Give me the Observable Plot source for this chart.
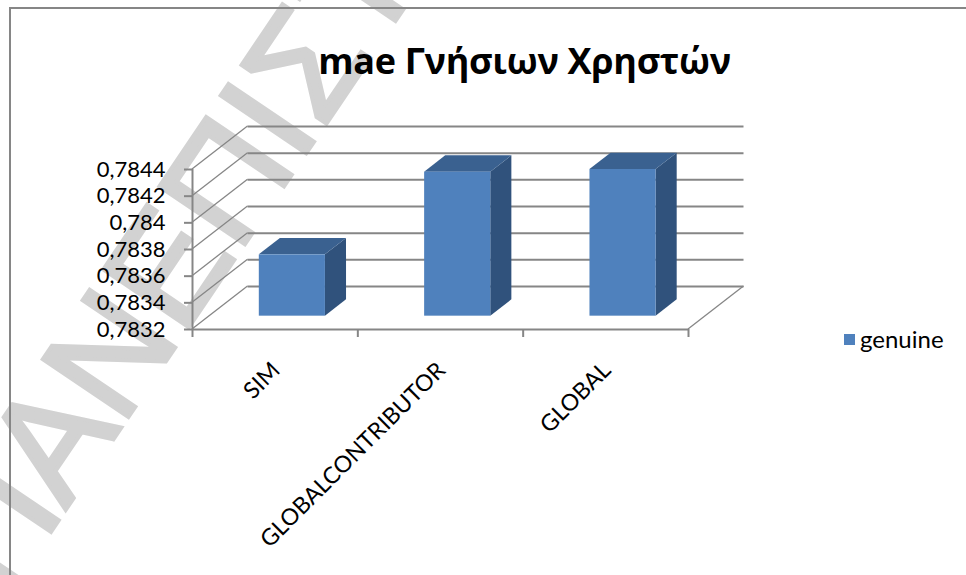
<!DOCTYPE html>
<html>
<head>
<meta charset="utf-8">
<script src="https://cdn.jsdelivr.net/npm/d3@7"></script>
<script src="https://cdn.jsdelivr.net/npm/@observablehq/plot@0.6"></script>
<style>
  html, body { margin: 0; padding: 0; background: #fff; }
  #wrap { position: relative; width: 966px; height: 575px; overflow: hidden; font-family: "Open Sans", sans-serif; }
  #wm { position: absolute; left: 0; top: 0; z-index: 0; }
  #frame { position: absolute; left: 9px; top: 7px; width: 2000px; height: 2000px; border-left: 2px solid #868686; border-top: 2px solid #868686; z-index: 1; }
  #chart { position: absolute; left: 0; top: 0; z-index: 2; }
  #title { position: absolute; left: 0; width: 1049px; top: 43px; text-align: center; font-weight: 700; font-size: 36px; line-height: 1; color: #000; z-index: 3; white-space: nowrap; letter-spacing: -0.3px; }
  #legend { position: absolute; left: 844px; top: 327px; z-index: 3; font-family: Lato, sans-serif; font-size: 24px; line-height: 24px; color: #000; }
  #legend .sw { position: absolute; left: 0; top: 7px; width: 11px; height: 11px; }
  #legend .lb { position: absolute; left: 16px; top: 0; white-space: nowrap; }
</style>
</head>
<body>
<div id="wrap">
  <svg id="wm" width="966" height="575">
    <text transform="translate(5,600) rotate(-56)" font-family="Liberation Sans" font-size="150" fill="#d2d2d2" stroke="#d2d2d2" stroke-width="4">ΠΑΝΕΠΙΣΤΗΜΙΟ</text>
  </svg>
  <div id="frame"></div>
  <div id="chart"></div>
  <div id="title"></div>
  <div id="legend"></div>
</div>
<script>
// ---- data ----
const title = "mae Γνήσιων Χρηστών";
const categories = ["SIM", "GLOBALCONTRIBUTOR", "GLOBAL"];
const values = [0.78366, 0.78428, 0.7843];
const seriesName = "genuine";
const yTickValues = [0.7832, 0.7834, 0.7836, 0.7838, 0.784, 0.7842, 0.7844];
const yTickLabels = ["0,7832", "0,7834", "0,7836", "0,7838", "0,784", "0,7842", "0,7844"];

// ---- styles ----
const yDomain = [yTickValues[0], yTickValues[yTickValues.length - 1]];
const xBoundaries = d3.range(categories.length + 1);
const DEPTH_DX = 55.5, DEPTH_DY = -43;      // px vector from front plane to back wall
const Z0 = 0.31, Z1 = 0.69;                // bar depth span
const BX0 = 0.3, BX1 = 0.7;                // bar span within band
const GRID = "#868686";
const FRONT = "#4f81bd", TOP = "#3a6190", SIDE = "#30527c";
const LABEL_FONT = "Lato";

const data = categories.map((c, i) => ({category: c, index: i, value: values[i]}));

document.getElementById("title").textContent = title;
document.getElementById("legend").innerHTML =
  `<div class="sw" style="background:${FRONT}"></div><div class="lb">${seriesName}</div>`;

// left wall diagonals and floor right edge (through scales)
const walls = (index, scales) => {
  const {x, y} = scales;
  const g = d3.create("svg:g").attr("fill", "none").attr("stroke", GRID).attr("stroke-width", 1.3);
  for (const t of yTickValues) {
    g.append("line").attr("x1", x(0)).attr("y1", y(t))
      .attr("x2", x(0) + DEPTH_DX).attr("y2", y(t) + DEPTH_DY);
  }
  const xe = x(categories.length), yb = y(yDomain[0]);
  g.append("line").attr("x1", xe).attr("y1", yb).attr("x2", xe + DEPTH_DX).attr("y2", yb + DEPTH_DY);
  return g.node();
};

// 3D extrusion (top + side) of bars
const extrusion = (index, scales) => {
  const {x, y} = scales;
  const g = d3.create("svg:g").attr("stroke", "none");
  const ddx = (Z1 - Z0) * DEPTH_DX, ddy = (Z1 - Z0) * DEPTH_DY;
  for (const d of data) {
    const xl = x(d.index + BX0) + Z0 * DEPTH_DX;
    const xr = x(d.index + BX1) + Z0 * DEPTH_DX;
    const yt = y(d.value) + Z0 * DEPTH_DY;
    const yb = y(yDomain[0]) + Z0 * DEPTH_DY;
    g.append("path").attr("fill", SIDE)
      .attr("d", `M${xr},${yt}L${xr + ddx},${yt + ddy}L${xr + ddx},${yb + ddy}L${xr},${yb}Z`);
    g.append("path").attr("fill", TOP)
      .attr("d", `M${xl},${yt}L${xr},${yt}L${xr + ddx},${yt + ddy}L${xl + ddx},${yt + ddy}Z`);
  }
  return g.node();
};

const chart = Plot.plot({
  width: 966,
  height: 575,
  marginLeft: 192,
  marginRight: 278,
  marginTop: 169,
  marginBottom: 246,
  style: {background: "transparent", fontFamily: LABEL_FONT, fontSize: "23px", color: "#000", overflow: "visible"},
  x: {type: "linear", domain: [0, categories.length]},
  y: {type: "linear", domain: yDomain},
  marks: [
    Plot.ruleY(yTickValues, {dx: DEPTH_DX, dy: DEPTH_DY, stroke: GRID, strokeWidth: 2}),
    walls,
    Plot.ruleX([0], {stroke: GRID, strokeWidth: 2}),
    Plot.ruleY([yDomain[0]], {stroke: GRID, strokeWidth: 2}),
    Plot.axisY(yTickValues, {
      tickSize: 8, tickPadding: 19, stroke: GRID, strokeWidth: 2, fill: "#000", fontSize: 22, label: null,
      fontFamily: LABEL_FONT,
      tickFormat: d => yTickLabels[yTickValues.indexOf(d)]
    }),
    Plot.axisX(xBoundaries, {tickSize: 8, stroke: GRID, strokeWidth: 2, tickFormat: () => "", label: null}),
    extrusion,
    Plot.rect(data, {
      x1: d => d.index + BX0, x2: d => d.index + BX1,
      y1: () => yDomain[0], y2: "value",
      dx: Z0 * DEPTH_DX, dy: Z0 * DEPTH_DY, fill: FRONT
    }),
    Plot.text(data, {
      x: d => d.index + 0.5, y: () => yDomain[0], text: "category",
      rotate: -45, textAnchor: "end", dy: 37, dx: 1, fontSize: 23, fontFamily: LABEL_FONT, fill: "#000"
    })
  ]
});
document.getElementById("chart").appendChild(chart);
</script>
</body>
</html>
